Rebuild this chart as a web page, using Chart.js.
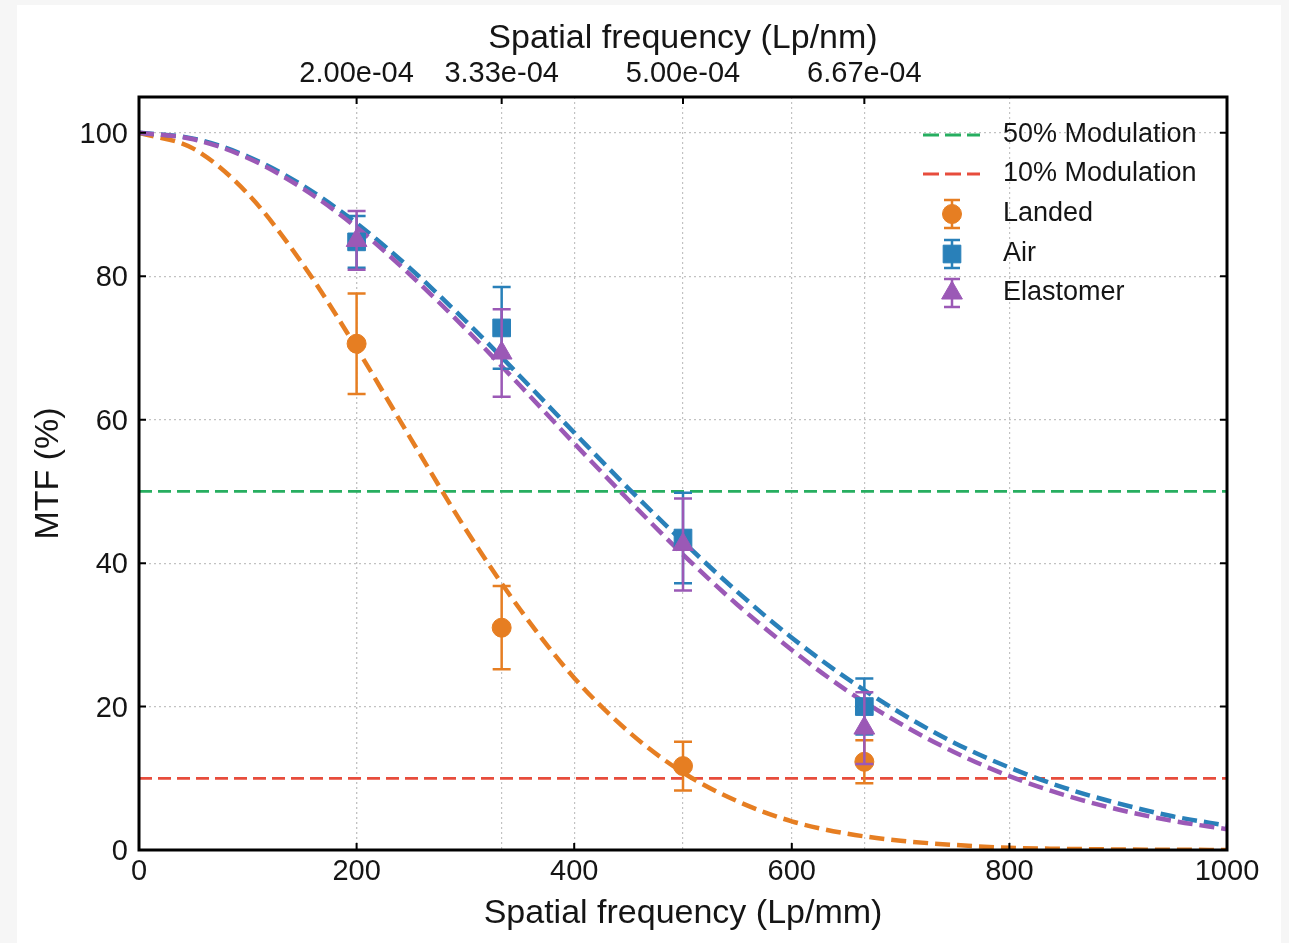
<!DOCTYPE html>
<html><head><meta charset="utf-8">
<script src="https://cdn.jsdelivr.net/npm/chart.js@4.4.0/dist/chart.umd.min.js"></script>
<style>
html,body{margin:0;padding:0;background:#f6f6f6;width:1289px;height:943px;overflow:hidden}
#card{position:absolute;left:17px;top:5px;width:1264px;height:938px;background:#fff}
#wrap{position:absolute;left:0;top:0;width:1289px;height:943px}
</style></head><body>
<div id="card"></div>
<div id="wrap"><canvas id="c" width="1289" height="943"></canvas></div>
<script>
// ---- data ----
const freq = [200, 333.33, 500, 666.67];
const landed = [70.6, 31.0, 11.7, 12.3];
const landedErr = [7.0, 5.8, 3.4, 3.0];
const air = [84.8, 72.8, 43.5, 20.0];
const airErr = [3.6, 5.7, 6.3, 3.9];
const elast = [85.0, 69.3, 42.6, 17.0];
const elastErr = [4.1, 6.1, 6.4, 5.0];

const fitX = [0,50,100,150,200,250,300,350,400,450,500,550,600,650,700,750,800,850,900,950,1000];
const landedFit = [100,97.8,91.5,81.8,70.0,57.3,44.8,33.6,24.0,16.5,10.8,6.8,4.0,2.3,1.3,0.7,0.3,0.16,0.07,0.03,0.01];
const airFit = [100,99.2,96.7,92.7,87.4,81.0,73.8,66.1,58.2,50.4,43.0,36.0,29.6,24.0,19.1,14.9,11.5,8.7,6.5,4.7,3.4];
const elastFit = [100,99.1,96.5,92.3,86.8,80.1,72.7,64.8,56.7,48.8,41.2,34.2,27.9,22.3,17.6,13.6,10.3,7.7,5.65,4.07,2.9];

const modX = [0, 1000];
const mod50 = [50, 50];
const mod10 = [10, 10];

const xTicks = [0, 200, 400, 600, 800, 1000];
const yTicks = [0, 20, 40, 60, 80, 100];
const topTickValues = [200, 333.33, 500, 666.67];
const topTickLabels = ['2.00e-04', '3.33e-04', '5.00e-04', '6.67e-04'];

// ---- style ----
const C = {
  orange: '#E67E22', blue: '#2980B9', purple: '#9B59B6',
  green: '#27AE60', red: '#E74C3C', text: '#151515', grid: '#c2c2c2'
};
const FONT = 'Liberation Sans, Arial, Helvetica, sans-serif';
Chart.defaults.font.family = FONT;
Chart.defaults.color = C.text;

const pts = (xs, ys) => xs.map((x, i) => ({x: x, y: ys[i]}));

const fitStyle = (color) => ({
  borderColor: color, borderWidth: 4.5, borderDash: [15, 7],
  pointRadius: 0, fill: false, cubicInterpolationMode: 'monotone'
});
const markerStyle = (color, style, r) => ({
  showLine: false, pointStyle: style, pointRadius: r,
  pointBackgroundColor: color, pointBorderColor: color, pointBorderWidth: 1,
  borderColor: color, backgroundColor: color
});

const datasets = [
  Object.assign({label: 'Elastomer', data: pts(freq, elast), errY: elastErr, order: 1}, markerStyle(C.purple, 'triangle', 12)),
  Object.assign({label: 'Air', data: pts(freq, air), errY: airErr, order: 2}, markerStyle(C.blue, 'rect', 12.5)),
  Object.assign({label: 'Landed', data: pts(freq, landed), errY: landedErr, order: 3}, markerStyle(C.orange, 'circle', 9.5)),
  Object.assign({label: 'Elastomer fit', data: pts(fitX, elastFit), order: 4}, fitStyle(C.purple)),
  Object.assign({label: 'Air fit', data: pts(fitX, airFit), order: 5}, fitStyle(C.blue)),
  Object.assign({label: 'Landed fit', data: pts(fitX, landedFit), order: 6}, fitStyle(C.orange)),
  {label: '10% Modulation', data: pts(modX, mod10), order: 7, borderColor: C.red, borderWidth: 2.8, borderDash: [13, 6], pointRadius: 0, fill: false},
  {label: '50% Modulation', data: pts(modX, mod50), order: 8, borderColor: C.green, borderWidth: 2.8, borderDash: [13, 6], pointRadius: 0, fill: false}
];

// error bars drawn just before each marker dataset
const errorBars = {
  id: 'errorBars',
  beforeDatasetDraw(chart, args) {
    const ds = chart.data.datasets[args.index];
    if (!ds.errY) return;
    const xs = chart.scales.x, ys = chart.scales.y, ctx = chart.ctx;
    ctx.save();
    ctx.strokeStyle = ds.borderColor; ctx.lineWidth = 2.5; ctx.setLineDash([]);
    ds.data.forEach((p, i) => {
      const px = xs.getPixelForValue(p.x);
      const y1 = ys.getPixelForValue(p.y + ds.errY[i]);
      const y0 = ys.getPixelForValue(p.y - ds.errY[i]);
      ctx.beginPath();
      ctx.moveTo(px, y0); ctx.lineTo(px, y1);
      ctx.moveTo(px - 9, y0); ctx.lineTo(px + 9, y0);
      ctx.moveTo(px - 9, y1); ctx.lineTo(px + 9, y1);
      ctx.stroke();
    });
    ctx.restore();
  }
};

// frame + inward ticks + legend
const frame = {
  id: 'frame',
  afterDatasetsDraw(chart) {
    const {ctx, chartArea: a, scales} = chart;
    ctx.save();
    ctx.setLineDash([]);
    ctx.strokeStyle = '#000';
    ctx.lineWidth = 2;
    const tl = 7;
    ctx.beginPath();
    xTicks.forEach(v => { const p = scales.x.getPixelForValue(v); ctx.moveTo(p, a.bottom); ctx.lineTo(p, a.bottom - tl); });
    topTickValues.forEach(v => { const p = scales.x2.getPixelForValue(v); ctx.moveTo(p, a.top); ctx.lineTo(p, a.top + tl); });
    yTicks.forEach(v => { const p = scales.y.getPixelForValue(v); ctx.moveTo(a.left, p); ctx.lineTo(a.left + tl, p); ctx.moveTo(a.right, p); ctx.lineTo(a.right - tl, p); });
    ctx.stroke();
    ctx.lineWidth = 3;
    ctx.strokeRect(a.left, a.top, a.right - a.left, a.bottom - a.top);
    ctx.restore();
  },
  afterDraw(chart) {
    const ctx = chart.ctx;
    ctx.save();
    ctx.font = '27px ' + FONT;
    ctx.fillStyle = C.text;
    ctx.textBaseline = 'middle';
    ctx.textAlign = 'left';
    const tx = 1003, sx0 = 923, sx1 = 980, mx = 952;
    const rows = [
      {t: '50% Modulation', y: 135, line: C.green},
      {t: '10% Modulation', y: 174, line: C.red},
      {t: 'Landed', y: 214, m: C.orange, s: 'circle', r: 9.5},
      {t: 'Air', y: 254, m: C.blue, s: 'rect', r: 12.5},
      {t: 'Elastomer', y: 293, m: C.purple, s: 'triangle', r: 12}
    ];
    rows.forEach(row => {
      if (row.line) {
        ctx.save();
        ctx.beginPath(); ctx.rect(sx0, row.y - 5, sx1 - sx0, 10); ctx.clip();
        ctx.strokeStyle = row.line; ctx.lineWidth = 2.8; ctx.setLineDash([16, 6]);
        ctx.beginPath(); ctx.moveTo(sx0, row.y); ctx.lineTo(sx1 + 20, row.y); ctx.stroke();
        ctx.restore();
      } else {
        ctx.save();
        ctx.strokeStyle = row.m; ctx.lineWidth = 2.5; ctx.setLineDash([]);
        ctx.beginPath();
        ctx.moveTo(mx, row.y - 14); ctx.lineTo(mx, row.y + 14);
        ctx.moveTo(mx - 8, row.y - 14); ctx.lineTo(mx + 8, row.y - 14);
        ctx.moveTo(mx - 8, row.y + 14); ctx.lineTo(mx + 8, row.y + 14);
        ctx.stroke();
        ctx.fillStyle = row.m; ctx.strokeStyle = row.m; ctx.lineWidth = 1;
        Chart.helpers.drawPoint(ctx, {pointStyle: row.s, radius: row.r, rotation: 0, borderWidth: 1}, mx, row.y);
        ctx.restore();
      }
      ctx.fillText(row.t, tx, row.y);
    });
    ctx.restore();
  }
};

const gridOpts = {color: C.grid, lineWidth: 1.2, drawTicks: false};
const borderOpts = {display: false, dash: [2, 3]};
const tickFont = {size: 29, family: FONT};
const titleFont = {size: 34, family: FONT};

new Chart(document.getElementById('c'), {
  type: 'line',
  data: {datasets: datasets},
  plugins: [errorBars, frame],
  options: {
    responsive: false, animation: false, devicePixelRatio: 1,
    layout: {padding: {left: 0, right: 62, top: 0, bottom: 0}},
    plugins: {legend: {display: false}, tooltip: {enabled: false}},
    scales: {
      x: {
        type: 'linear', position: 'bottom', min: 0, max: 1000,
        afterBuildTicks: s => { s.ticks = xTicks.map(v => ({value: v})); },
        afterFit: s => { s.height = 93; },
        grid: gridOpts, border: borderOpts,
        ticks: {font: tickFont, color: C.text, padding: 5, maxRotation: 0, autoSkip: false,
          callback: v => String(v)},
        title: {display: true, text: 'Spatial frequency (Lp/mm)', font: titleFont, color: C.text, padding: {top: 0, bottom: 9}}
      },
      x2: {
        type: 'linear', position: 'top', min: 0, max: 1000,
        afterBuildTicks: s => { s.ticks = topTickValues.map(v => ({value: v})); },
        afterFit: s => { s.height = 97; },
        grid: gridOpts, border: borderOpts,
        ticks: {font: tickFont, color: C.text, padding: 6, maxRotation: 0, autoSkip: false,
          callback: (v, i) => topTickLabels[i]},
        title: {display: true, text: 'Spatial frequency (Lp/nm)', font: titleFont, color: C.text, padding: {top: 18, bottom: 0}}
      },
      y: {
        type: 'linear', position: 'left', min: 0, max: 105,
        afterBuildTicks: s => { s.ticks = yTicks.map(v => ({value: v})); },
        afterFit: s => { s.width = 139; },
        grid: gridOpts, border: borderOpts,
        ticks: {font: tickFont, color: C.text, padding: 11, labelOffset: 2, callback: v => String(v)},
        title: {display: true, text: 'MTF (%)', font: titleFont, color: C.text, padding: {top: 28, bottom: 0}}
      }
    }
  }
});
</script>
</body></html>
